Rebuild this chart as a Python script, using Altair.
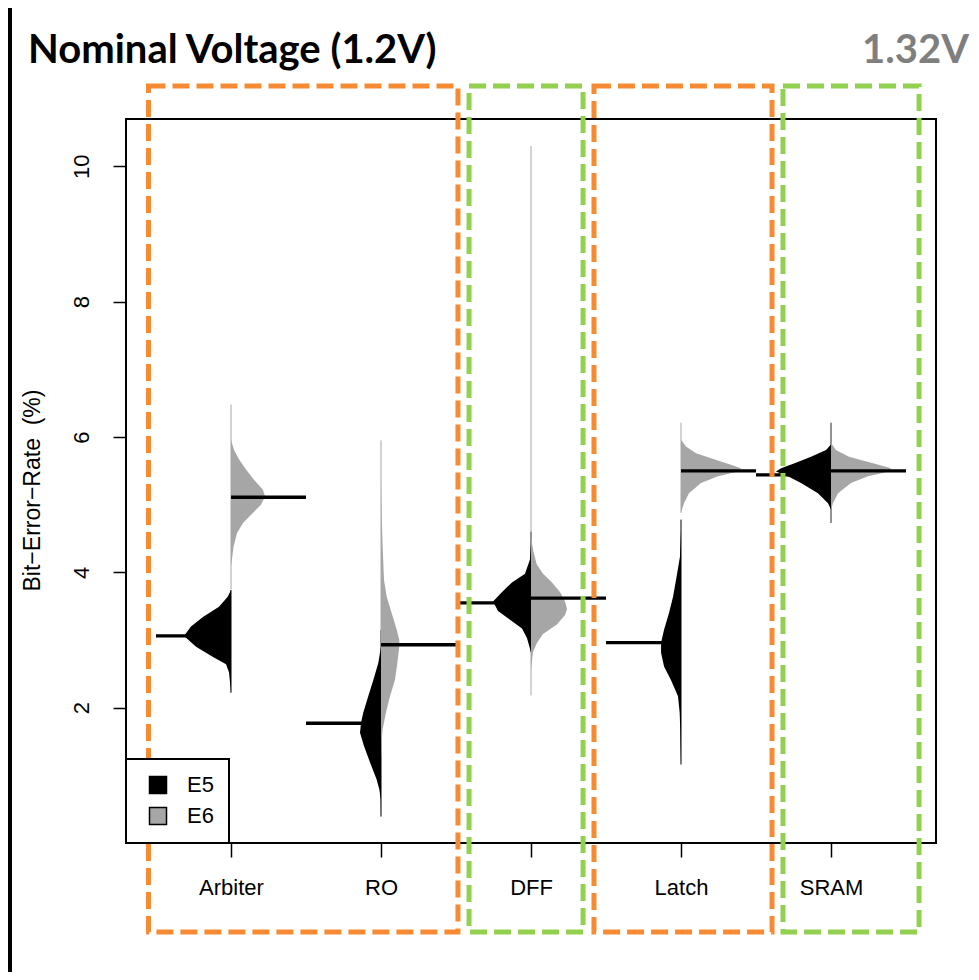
import altair as alt
import pandas as pd

# ---------------- data ----------------
CATEGORIES = ["Arbiter", "RO", "DFF", "Latch", "SRAM"]
SERIES = ["E5", "E6"]

# density profiles: BER value (%) and half-width (in x-axis units)
ARBITER_E5_Y = [3.74, 3.64, 3.49, 3.34, 3.20, 3.06, 2.90, 2.75, 2.64, 2.52, 2.22]
ARBITER_E5_W = [0.0, 0.022, 0.080, 0.187, 0.267, 0.313, 0.233, 0.120, 0.033, 0.013, 0.0]
ARBITER_E6_Y = [5.96, 5.81, 5.67, 5.52, 5.37, 5.22, 5.12, 5.00, 4.88, 4.73, 4.58, 4.38, 4.09]
ARBITER_E6_W = [0.0, 0.020, 0.053, 0.100, 0.153, 0.213, 0.227, 0.200, 0.147, 0.080, 0.040, 0.017, 0.0]

RO_E5_Y = [2.90, 2.66, 2.41, 2.17, 1.93, 1.78, 1.63, 1.43, 1.19, 0.94, 0.79, 0.64, 0.39]
RO_E5_W = [0.0, 0.018, 0.051, 0.085, 0.118, 0.133, 0.140, 0.113, 0.073, 0.029, 0.011, 0.002, 0.0]
RO_E6_Y = [5.37, 4.88, 4.38, 3.89, 3.64, 3.40, 3.15, 3.00, 2.90, 2.66, 2.41, 2.17, 1.93, 1.68, 1.43, 1.28]
RO_E6_W = [0.0, 0.004, 0.011, 0.020, 0.038, 0.071, 0.105, 0.122, 0.122, 0.109, 0.093, 0.060, 0.033, 0.011, 0.002, 0.0]

DFF_E5_Y = [4.45, 4.19, 3.98, 3.85, 3.71, 3.57, 3.43, 3.30, 3.17, 3.03, 2.82]
DFF_E5_W = [0.0, 0.007, 0.040, 0.127, 0.193, 0.253, 0.220, 0.140, 0.060, 0.027, 0.0]
DFF_E6_Y = [4.53, 4.32, 4.12, 3.98, 3.85, 3.71, 3.57, 3.46, 3.37, 3.23, 3.09, 2.96, 2.82, 2.56]
DFF_E6_W = [0.0, 0.015, 0.038, 0.080, 0.140, 0.193, 0.227, 0.240, 0.227, 0.173, 0.080, 0.040, 0.013, 0.0]

LATCH_E5_Y = [4.63, 4.23, 3.89, 3.64, 3.40, 3.15, 2.96, 2.81, 2.61, 2.41, 2.17, 1.93, 1.68, 1.43, 1.16]
LATCH_E5_W = [0.0, 0.007, 0.033, 0.053, 0.080, 0.113, 0.133, 0.133, 0.113, 0.067, 0.020, 0.009, 0.005, 0.003, 0.0]
LATCH_E6_Y = [5.96, 5.86, 5.76, 5.67, 5.59, 5.54, 5.49, 5.42, 5.32, 5.17, 5.02, 4.88]
LATCH_E6_W = [0.0, 0.033, 0.100, 0.220, 0.333, 0.400, 0.380, 0.247, 0.133, 0.053, 0.020, 0.0]

SRAM_E5_Y = [5.89, 5.81, 5.71, 5.61, 5.54, 5.49, 5.42, 5.32, 5.17, 5.02, 4.93]
SRAM_E5_W = [0.0, 0.033, 0.133, 0.247, 0.333, 0.367, 0.287, 0.200, 0.087, 0.020, 0.0]
SRAM_E6_Y = [5.91, 5.81, 5.71, 5.61, 5.54, 5.49, 5.42, 5.32, 5.17, 5.02, 4.93]
SRAM_E6_W = [0.0, 0.033, 0.120, 0.287, 0.400, 0.387, 0.247, 0.133, 0.047, 0.013, 0.0]

# bean means (horizontal lines) and data ranges (thin centre lines)
MEANS_E5 = [3.06, 1.77, 3.55, 2.96, 5.44]
MEANS_E6 = [5.11, 2.93, 3.62, 5.50, 5.50]
RANGE_E5_MIN = [2.22, 0.39, 2.82, 1.16, 4.73]
RANGE_E5_MAX = [3.74, 3.15, 4.60, 4.78, 6.21]
RANGE_E6_MIN = [3.75, 1.28, 2.18, 4.88, 4.73]
RANGE_E6_MAX = [6.48, 5.95, 10.30, 6.21, 6.21]

Y_TICKS = [2, 4, 6, 8, 10]

# ---------------- styling / layout ----------------
COLORS = {"E5": "#000000", "E6": "#A6A6A6"}
ORANGE = "#F68B33"
GREEN = "#92D050"
LINE_HALF = 0.5
FONT = "Liberation Sans"

# group annotation boxes (x in axis units)
BOXES = [
    {"x0": 0.45, "x1": 2.513, "c": ORANGE},
    {"x0": 2.587, "x1": 3.347, "c": GREEN},
    {"x0": 3.42, "x1": 4.607, "c": ORANGE},
    {"x0": 4.68, "x1": 5.587, "c": GREEN},
]

profiles = {
    ("Arbiter", "E5"): (ARBITER_E5_Y, ARBITER_E5_W),
    ("Arbiter", "E6"): (ARBITER_E6_Y, ARBITER_E6_W),
    ("RO", "E5"): (RO_E5_Y, RO_E5_W),
    ("RO", "E6"): (RO_E6_Y, RO_E6_W),
    ("DFF", "E5"): (DFF_E5_Y, DFF_E5_W),
    ("DFF", "E6"): (DFF_E6_Y, DFF_E6_W),
    ("Latch", "E5"): (LATCH_E5_Y, LATCH_E5_W),
    ("Latch", "E6"): (LATCH_E6_Y, LATCH_E6_W),
    ("SRAM", "E5"): (SRAM_E5_Y, SRAM_E5_W),
    ("SRAM", "E6"): (SRAM_E6_Y, SRAM_E6_W),
}

rows = []
for (cat, s), (ys, ws) in profiles.items():
    pos = CATEGORIES.index(cat) + 1
    for yv, wv in sorted(zip(ys, ws)):
        if s == "E5":
            xa, xb = pos - wv, pos
        else:
            xa, xb = pos, pos + wv
        rows.append({"key": f"{cat}-{s}", "series": s, "y": yv, "xa": xa, "xb": xb})
dens = pd.DataFrame(rows)

line_rows = []
range_rows = []
for i, cat in enumerate(CATEGORIES):
    pos = i + 1
    line_rows.append({"series": "E5", "y": MEANS_E5[i], "xa": pos - LINE_HALF, "xb": pos})
    line_rows.append({"series": "E6", "y": MEANS_E6[i], "xa": pos, "xb": pos + LINE_HALF})
    range_rows.append({"series": "E5", "x": pos, "lo": RANGE_E5_MIN[i], "hi": RANGE_E5_MAX[i], "c": COLORS["E5"]})
    range_rows.append({"series": "E6", "x": pos, "lo": RANGE_E6_MIN[i], "hi": RANGE_E6_MAX[i], "c": COLORS["E6"]})
lines = pd.DataFrame(line_rows)
ranges = pd.DataFrame(range_rows)
boxes = pd.DataFrame(BOXES)

x_scale = alt.Scale(domain=[0.3, 5.7], nice=False, zero=False)
y_scale = alt.Scale(domain=[0, 10.7], nice=False, zero=False)

label_expr = "[" + ",".join(f"'{c}'" for c in CATEGORIES) + "][datum.value - 1]"

x_axis = alt.Axis(
    values=[1, 2, 3, 4, 5], labelExpr=label_expr, grid=False, domain=False,
    tickColor="black", tickSize=14, tickWidth=1.5, labelFontSize=22, labelFont=FONT,
    labelColor="black", labelPadding=37, labelBaseline="alphabetic", title=None,
)
y_axis = alt.Axis(
    values=Y_TICKS, format="d", grid=False, domain=False, tickColor="black", tickSize=13,
    tickWidth=1.5, labelAngle=270, labelAlign="center", labelBaseline="alphabetic",
    labelPadding=25, labelFontSize=22, labelFont=FONT, labelColor="black",
    title="Bit\u2212Error\u2212Rate \u00a0(%)", titleFont=FONT, titleFontSize=23,
    titleFontWeight="normal", titleColor="black", titleAngle=270, titleX=-94, titleY=371,
    titleBaseline="middle", titleAlign="center",
)

legend = alt.Legend(
    title=None, orient="bottom-left", offset=0, padding=15, strokeColor="black",
    fillColor="white", symbolType="square", symbolSize=289, symbolStrokeColor="black",
    symbolStrokeWidth=1.5, labelFontSize=22, labelFont=FONT, labelColor="black",
    labelOffset=18, rowPadding=7, symbolOffset=6, zindex=0,
)

fill_scale = alt.Scale(domain=SERIES, range=[COLORS[s] for s in SERIES])

areas = alt.Chart(dens).mark_area(orient="horizontal").encode(
    y=alt.Y("y:Q", scale=y_scale, axis=y_axis),
    x=alt.X("xa:Q", scale=x_scale, axis=x_axis),
    x2="xb:Q",
    color=alt.Color("series:N", scale=fill_scale, legend=legend),
    detail="key:N",
)

thin = alt.Chart(ranges).mark_rule(strokeWidth=1).encode(
    x=alt.X("x:Q", scale=x_scale),
    y=alt.Y("lo:Q", scale=y_scale),
    y2="hi:Q",
    stroke=alt.Stroke("c:N", scale=None),
)

means = alt.Chart(lines).mark_rule(strokeWidth=3.3, color="black").encode(
    x=alt.X("xa:Q", scale=x_scale),
    x2="xb:Q",
    y=alt.Y("y:Q", scale=y_scale),
)

box_layer = alt.Chart(boxes).mark_rect(
    fillOpacity=0, strokeWidth=5, strokeDash=[17, 7], clip=False
).encode(
    x=alt.X("x0:Q", scale=x_scale),
    x2="x1:Q",
    y=alt.value(-33),
    y2=alt.value(813),
    stroke=alt.Stroke("c:N", scale=None),
)

one = alt.Data(values=[{}])
title_left = alt.Chart(one).mark_text(
    text="Nominal Voltage (1.2V)", font="Lato", fontSize=40, fontWeight="bold",
    align="left", baseline="alphabetic", color="black",
).encode(x=alt.value(-98), y=alt.value(-56))
title_right = alt.Chart(one).mark_text(
    text="1.32V", font="Lato", fontSize=40, fontWeight="bold",
    align="right", baseline="alphabetic", color="#7F7F7F",
).encode(x=alt.value(843), y=alt.value(-56))
band = alt.Chart(one).mark_rect(color="black").encode(
    x=alt.value(-118), x2=alt.value(-114), y=alt.value(-111), y2=alt.value(853)
)

chart = alt.layer(thin, areas, means, box_layer, title_left, title_right, band).properties(
    width=810, height=724,
    autosize=alt.AutoSizeParams(type="none"),
    padding={"left": 118, "top": 111, "right": 35, "bottom": 129},
    background="white",
).configure_view(stroke="black", strokeWidth=2).configure_legend(strokeWidth=2)

chart.save("out.html", embed_options={"renderer": "svg", "actions": False})
